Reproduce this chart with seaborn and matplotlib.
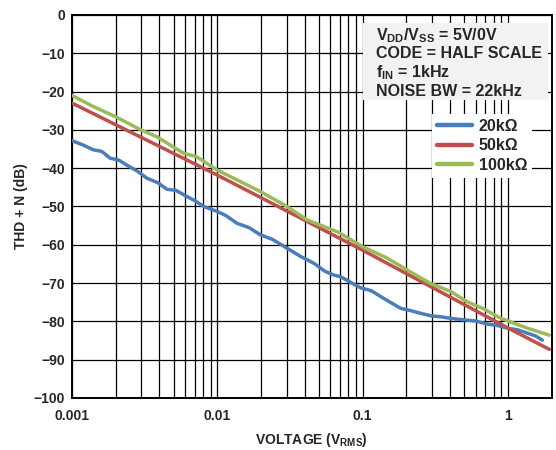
import numpy as np
import pandas as pd
import matplotlib
matplotlib.use("Agg")
import matplotlib.pyplot as plt
import matplotlib.ticker as mticker
from matplotlib.patches import Rectangle
import seaborn as sns

# --- data (voltage in V rms, THD+N in dB) ---
x_20k = [0.001, 0.0012, 0.0014, 0.0016, 0.00183, 0.0021, 0.00238, 0.0028,
         0.00327, 0.0039, 0.0045, 0.0052, 0.00618, 0.0071, 0.00805,
         0.01, 0.0115, 0.01368, 0.0165, 0.0198, 0.024, 0.0302, 0.0373,
         0.0461, 0.055, 0.0634, 0.0705, 0.0835, 0.0966,
         0.115, 0.133, 0.155, 0.183, 0.215, 0.251, 0.3, 0.345, 0.42, 0.5,
         0.6, 0.724, 0.85, 1.0, 1.17, 1.37, 1.55, 1.73]
y_20k = [-32.8, -34.0, -35.2, -35.6, -37.4, -37.9, -39.2, -40.7,
         -42.6, -43.8, -45.5, -45.8, -47.4, -48.6, -50.0,
         -51.3, -52.4, -54.4, -55.5, -57.4, -58.6, -60.9, -63.0,
         -64.8, -66.9, -67.9, -68.3, -69.9, -71.2,
         -72.0, -73.5, -75.0, -76.6, -77.2, -77.9, -78.6, -78.8, -79.3, -79.6,
         -79.9, -80.7, -81.1, -81.8, -82.2, -83.1, -83.8, -84.9]

x_50k = [0.001, 0.01, 0.1, 1.0, 1.93]
y_50k = [-23.0, -41.8, -61.4, -81.7, -87.3]

x_100k = [0.001, 0.0014, 0.00198, 0.00294, 0.00384, 0.00586, 0.0072, 0.01,
          0.0198, 0.0302, 0.0415, 0.067, 0.1, 0.148, 0.203, 0.294, 0.405,
          0.527, 0.67, 0.896, 1.37, 1.93]
y_100k = [-21.0, -23.9, -26.5, -29.9, -31.8, -36.1, -37.0, -40.5,
          -46.1, -50.0, -53.5, -56.6, -60.5, -63.5, -66.6, -70.1, -72.2,
          -74.9, -76.6, -79.2, -81.8, -83.6]

labels = ["20kΩ", "50kΩ", "100kΩ"]
colors = ["#4a7ebb", "#c0504d", "#9bbb59"]

df = pd.concat([
    pd.DataFrame({"v": x_20k, "thd": y_20k, "load": labels[0]}),
    pd.DataFrame({"v": x_50k, "thd": y_50k, "load": labels[1]}),
    pd.DataFrame({"v": x_100k, "thd": y_100k, "load": labels[2]}),
], ignore_index=True)

sns.set_style("white")
plt.rcParams["font.family"] = ["Liberation Sans", "DejaVu Sans"]
plt.rcParams["font.weight"] = "bold"
plt.rcParams["mathtext.fontset"] = "custom"
plt.rcParams["mathtext.rm"] = "Liberation Sans:bold"
plt.rcParams["mathtext.bf"] = "Liberation Sans:bold"
plt.rcParams["mathtext.default"] = "rm"

fig = plt.figure(figsize=(5.56, 4.5), dpi=100)
ax = fig.add_axes([0.1295, 0.1156, 0.8625, 0.8511])

sns.lineplot(data=df, x="v", y="thd", hue="load", palette=colors,
             linewidth=2.5, sort=False, ax=ax, zorder=3)

ax.set_xscale("log")
ax.set_xlim(0.001, 2.0)
ax.set_ylim(-100, 0)
ax.set_yticks(np.arange(-100, 1, 10))
ax.xaxis.set_major_locator(mticker.FixedLocator([0.001, 0.01, 0.1, 1]))
ax.xaxis.set_major_formatter(mticker.FixedFormatter(["0.001", "0.01", "0.1", "1"]))
ax.xaxis.set_minor_locator(mticker.LogLocator(base=10, subs=np.arange(2, 10)))
ax.xaxis.set_minor_formatter(mticker.NullFormatter())
ax.grid(which="both", color="black", linewidth=0.9)
ax.tick_params(which="both", length=0, labelsize=10, pad=5)
ax.tick_params(axis="x", pad=8)
for sp in ax.spines.values():
    sp.set_color("black")
    sp.set_linewidth(1.4)

ax.set_xlabel("VOLTAGE (V$_{RMS}$)", fontsize=10, fontweight="bold", labelpad=6)
ax.set_ylabel("THD + N (dB)", fontsize=10, fontweight="bold", labelpad=4)

leg = ax.legend(loc="upper right", bbox_to_anchor=(540 / 556, 1 - 106 / 450),
                bbox_transform=fig.transFigure, frameon=True, fancybox=False,
                framealpha=1, facecolor="white", edgecolor="none",
                fontsize=11.5, handlelength=2.2, handletextpad=0.4,
                labelspacing=0.28, borderpad=0.3)
for line in leg.get_lines():
    line.set_linewidth(3.2)
leg.set_zorder(5)

# condition box
box = Rectangle((363 / 556, 1 - 100 / 450), 185 / 556, 77 / 450,
                transform=fig.transFigure, facecolor="#f2f2f2",
                edgecolor="none", zorder=4)
fig.patches.append(box)
fig.text(376 / 556, 1 - 26 / 450,
         "V$_{DD}$/V$_{SS}$ = 5V/0V\nCODE = HALF SCALE\nf$_{IN}$ = 1kHz\nNOISE BW = 22kHz",
         fontsize=11.5, fontweight="bold", va="top", ha="left",
         linespacing=1.15, zorder=6)

fig.savefig("out.png", dpi=100)
